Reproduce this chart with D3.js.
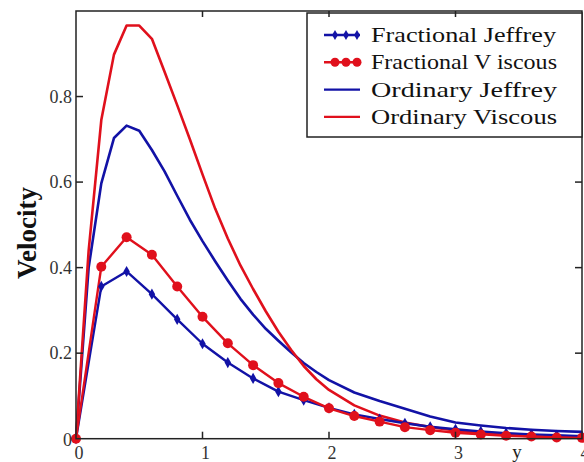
<!DOCTYPE html>
<html>
<head>
<meta charset="utf-8">
<script src="https://cdn.jsdelivr.net/npm/d3@7"></script>
<style>
  body { margin: 0; background: #fff; }
  svg { display: block; font-family: "Liberation Serif", "Times New Roman", serif; }
</style>
</head>
<body>
<div id="chart"></div>
<script>
// data
const xOrdinary = [0, 0.1, 0.2, 0.3, 0.4, 0.5, 0.6, 0.7, 0.8, 0.9, 1.0, 1.1, 1.2, 1.3, 1.4, 1.5, 1.6, 1.7, 1.8, 1.9, 2.0,
                   2.2, 2.4, 2.6, 2.8, 3.0, 3.2, 3.4, 3.6, 3.8, 4.0];
const ordinaryViscous = [0, 0.44, 0.745, 0.898, 0.966, 0.966, 0.935, 0.858, 0.78, 0.70, 0.618, 0.538, 0.468, 0.405, 0.35, 0.298, 0.25, 0.208, 0.17, 0.139, 0.114,
                         0.078, 0.054, 0.038, 0.027, 0.019, 0.013, 0.009, 0.006, 0.004, 0.003];
const ordinaryJeffrey = [0, 0.40, 0.597, 0.703, 0.732, 0.72, 0.675, 0.625, 0.568, 0.512, 0.462, 0.415, 0.37, 0.327, 0.29, 0.257, 0.229, 0.202, 0.177, 0.156, 0.137,
                         0.108, 0.088, 0.07, 0.052, 0.038, 0.031, 0.025, 0.021, 0.018, 0.016];

const xFractional = [0, 0.2, 0.4, 0.6, 0.8, 1.0, 1.2, 1.4, 1.6, 1.8, 2.0, 2.2, 2.4, 2.6, 2.8, 3.0, 3.2, 3.4, 3.6, 3.8, 4.0];
const fractionalViscous = [0, 0.402, 0.471, 0.43, 0.356, 0.285, 0.223, 0.172, 0.13, 0.098, 0.071, 0.053, 0.04, 0.027, 0.02, 0.014, 0.01, 0.007, 0.005, 0.003, 0.002];
const fractionalJeffrey = [0, 0.356, 0.391, 0.338, 0.279, 0.222, 0.178, 0.141, 0.110, 0.09, 0.072, 0.057, 0.046, 0.036, 0.028, 0.022, 0.017, 0.013, 0.01, 0.008, 0.006];

const xTicks = [0, 1, 2, 3, 4];
const yTicks = [0, 0.2, 0.4, 0.6, 0.8];
const yTickLabels = ["0", "0.2", "0.4", "0.6", "0.8"];

const legendNames = ["Fractional Jeffrey", "Fractional V iscous", "Ordinary Jeffrey", "Ordinary Viscous"];

const BLUE = "#1212a6";
const RED = "#e0101c";

const width = 584, height = 462;
const mLeft = 76, mRight = 582, mTop = 11, mBottom = 438.7;

const svg = d3.select("#chart").append("svg")
  .attr("width", width)
  .attr("height", height);

const x = d3.scaleLinear().domain([0, 4]).range([mLeft, mRight]);
const y = d3.scaleLinear().domain([0, 1]).range([mBottom, mTop]);

const line = d3.line().x(d => x(d[0])).y(d => y(d[1]));
const zip = (xs, ys) => xs.map((v, i) => [v, ys[i]]);

const plot = svg.append("g");

// curves
const series = [
  {pts: zip(xOrdinary, ordinaryJeffrey), color: BLUE, w: 2.6},
  {pts: zip(xOrdinary, ordinaryViscous), color: RED, w: 2.6},
  {pts: zip(xFractional, fractionalJeffrey), color: BLUE, w: 2.4, marker: "diamond"},
  {pts: zip(xFractional, fractionalViscous), color: RED, w: 2.4, marker: "circle"}
];

series.forEach(s => {
  plot.append("path")
    .attr("d", line(s.pts))
    .attr("fill", "none")
    .attr("stroke", s.color)
    .attr("stroke-width", s.w)
    .attr("stroke-linejoin", "round");
});

function drawMarkers(g, pts, kind, color){
  if(kind === "circle"){
    g.selectAll(null).data(pts).join("circle")
      .attr("cx", d => x(d[0])).attr("cy", d => y(d[1]))
      .attr("r", 5).attr("fill", color);
  } else {
    g.selectAll(null).data(pts).join("path")
      .attr("transform", d => `translate(${x(d[0])},${y(d[1])})`)
      .attr("d", d3.symbol(d3.symbolDiamond, 36))
      .attr("fill", color);
  }
}

series.filter(s => s.marker).forEach(s => drawMarkers(plot, s.pts, s.marker, s.color));

// frame
svg.append("rect")
  .attr("x", mLeft).attr("y", mTop)
  .attr("width", mRight - mLeft).attr("height", mBottom - mTop)
  .attr("fill", "none").attr("stroke", "#222").attr("stroke-width", 1.5);

// inward ticks on all four sides
const tickLen = 7;
const xi = xTicks.filter(t => t > 0 && t < 4);
const yi = yTicks.filter(t => t > 0);
svg.append("g").selectAll(null).data(xi).join("line")
  .attr("x1", d => x(d)).attr("x2", d => x(d))
  .attr("y1", mBottom).attr("y2", mBottom - tickLen)
  .attr("stroke", "#222").attr("stroke-width", 1.5);
svg.append("g").selectAll(null).data(yi).join("line")
  .attr("x1", mLeft).attr("x2", mLeft + tickLen)
  .attr("y1", d => y(d)).attr("y2", d => y(d))
  .attr("stroke", "#222").attr("stroke-width", 1.5);
svg.append("g").selectAll(null).data(yi).join("line")
  .attr("x1", mRight).attr("x2", mRight - tickLen)
  .attr("y1", d => y(d)).attr("y2", d => y(d))
  .attr("stroke", "#222").attr("stroke-width", 1.5);

// tick labels
svg.append("g").selectAll(null).data(xTicks).join("text")
  .attr("x", d => x(d) + 3)
  .attr("y", 459)
  .attr("text-anchor", "middle")
  .attr("font-size", 18)
  .attr("fill", "#333")
  .text(d => d);

svg.append("g").selectAll(null).data(yTicks).join("text")
  .attr("x", 72)
  .attr("y", (d, i) => y(d) + (i === 0 ? 1 : 0))
  .attr("dy", "0.35em")
  .attr("text-anchor", "end")
  .attr("font-size", 18)
  .attr("fill", "#333")
  .text((d, i) => yTickLabels[i]);

// axis titles
svg.append("text")
  .attr("x", 517).attr("y", 458)
  .attr("text-anchor", "middle")
  .attr("font-size", 19)
  .attr("fill", "#222")
  .text("y");

svg.append("text")
  .attr("transform", "translate(36,233) rotate(-90)")
  .attr("text-anchor", "middle")
  .attr("font-size", 27)
  .attr("font-weight", "bold")
  .attr("fill", "#111")
  .text("Velocity");

// legend
const legend = svg.append("g");
legend.append("rect")
  .attr("x", 307).attr("y", 13)
  .attr("width", 275).attr("height", 124)
  .attr("fill", "#fff").attr("stroke", "#222").attr("stroke-width", 1.5);

const legendItems = [
  {name: legendNames[0], color: BLUE, marker: "diamond"},
  {name: legendNames[1], color: RED, marker: "circle"},
  {name: legendNames[2], color: BLUE},
  {name: legendNames[3], color: RED}
];

legendItems.forEach((it, i) => {
  const cy = 35 + i * 27.3;
  legend.append("line")
    .attr("x1", 324).attr("x2", 360)
    .attr("y1", cy).attr("y2", cy)
    .attr("stroke", it.color).attr("stroke-width", 2.4);
  if(it.marker === "circle"){
    [335, 346, 357].forEach(mx => legend.append("circle")
      .attr("cx", mx).attr("cy", cy).attr("r", 4.5).attr("fill", it.color));
  } else if(it.marker){
    [335, 346, 357].forEach(mx => legend.append("path")
      .attr("transform", `translate(${mx},${cy})`)
      .attr("d", d3.symbol(d3.symbolDiamond, 30))
      .attr("fill", it.color));
  }
  legend.append("text")
    .attr("x", 371).attr("y", cy + 7)
    .attr("font-size", 22)
    .attr("fill", "#111")
    .attr("textLength", i === 0 ? 185 : 186)
    .attr("lengthAdjust", "spacingAndGlyphs")
    .text(it.name);
});

// top ticks, drawn last so they cross the legend border as in the original
svg.append("g").selectAll(null).data(xi).join("line")
  .attr("x1", d => x(d)).attr("x2", d => x(d))
  .attr("y1", mTop).attr("y2", mTop + 6)
  .attr("stroke", "#222").attr("stroke-width", 1.5);
</script>
</body>
</html>
